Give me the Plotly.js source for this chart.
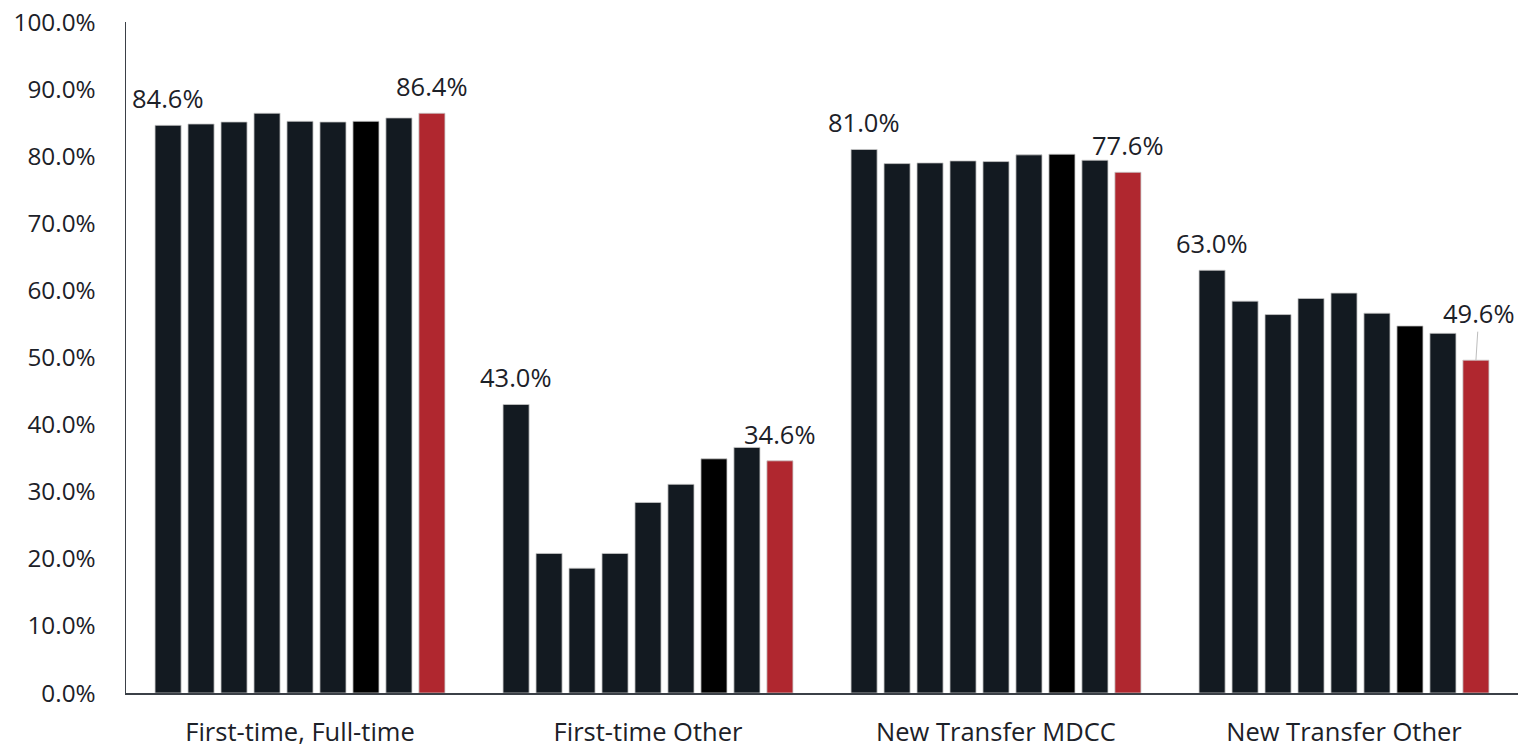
<!DOCTYPE html>
<html>
<head>
<meta charset="utf-8">
<script src="https://cdn.plot.ly/plotly-3.0.1.min.js"></script>
<style>html,body{margin:0;padding:0;background:#fff;}#chart{width:1518px;height:747px;}</style>
</head>
<body>
<div id="chart"></div>
<script>
const categories = ["First-time, Full-time", "First-time Other", "New Transfer MDCC", "New Transfer Other"];
const s1 = [84.6, 43.0, 81.0, 63.0];
const s2 = [84.8, 20.8, 78.9, 58.4];
const s3 = [85.1, 18.6, 79.0, 56.4];
const s4 = [86.4, 20.8, 79.3, 58.8];
const s5 = [85.2, 28.4, 79.2, 59.6];
const s6 = [85.1, 31.1, 80.2, 56.6];
const s7 = [85.2, 34.9, 80.3, 54.7];
const s8 = [85.7, 36.6, 79.4, 53.6];
const s9 = [86.4, 34.6, 77.6, 49.6];
const seriesValues = [s1, s2, s3, s4, s5, s6, s7, s8, s9];
const seriesColors = ["#131a21", "#131a21", "#131a21", "#131a21", "#131a21", "#131a21", "#000000", "#131a21", "#b0272f"];

const FONT = "'Open Sans', sans-serif";
const TXT = "#1c2128";
const BARGAP = 0.147, GROUPGAP = 0.21;
const nS = seriesValues.length;
const slot = (1 - BARGAP) / nS;

const traces = seriesValues.map((vals, j) => ({
  type: "bar",
  x: categories,
  y: vals,
  name: "S" + (j + 1),
  marker: {color: seriesColors[j], line: {color: "#c9c9c9", width: 0.8}},
  hoverinfo: "skip"
}));

const annotations = [];
categories.forEach((c, i) => {
  [0, nS - 1].forEach(j => {
    const xpos = i + (j - (nS - 1) / 2) * slot;
    const v = seriesValues[j][i];
    const isLeader = (i === 3 && j === nS - 1);
    annotations.push({
      x: xpos, y: v, xref: "x", yref: "y",
      text: v.toFixed(1) + "%",
      font: {family: FONT, size: 25.5, color: TXT},
      showarrow: isLeader,
      arrowhead: 0, arrowwidth: 1, arrowcolor: "#bdbdbd",
      ax: isLeader ? 3 : 0, ay: isLeader ? -47 : 0,
      yshift: isLeader ? 0 : 27,
      xanchor: "center", yanchor: "middle"
    });
  });
});

const layout = {
  width: 1518, height: 747,
  margin: {l: 126, r: 0, t: 22, b: 54},
  paper_bgcolor: "#fff", plot_bgcolor: "#fff",
  barmode: "group", bargap: BARGAP, bargroupgap: GROUPGAP,
  showlegend: false,
  font: {family: FONT, color: TXT},
  xaxis: {
    type: "category", showgrid: false, zeroline: false,
    showline: true, linecolor: "#3b4047", linewidth: 1.5,
    ticks: "", tickfont: {family: FONT, size: 25.5, color: TXT},
    ticklabelstandoff: 16
  },
  yaxis: {
    range: [0, 100], dtick: 10, showgrid: false, zeroline: false,
    showline: true, linecolor: "#3b4047", linewidth: 1.5,
    ticks: "", ticksuffix: "%", tickformat: ".1f",
    tickfont: {family: FONT, size: 24.3, color: TXT},
    ticklabelstandoff: 24
  },
  annotations: annotations
};

Plotly.newPlot("chart", traces, layout, {displayModeBar: false, staticPlot: true});
</script>
</body>
</html>
